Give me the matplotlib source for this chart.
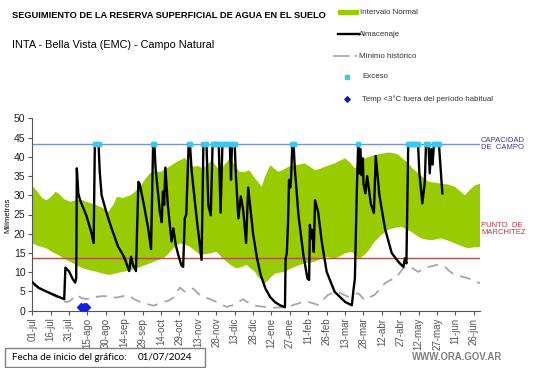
import numpy as np
import matplotlib
matplotlib.use("Agg")
import matplotlib.pyplot as plt
from matplotlib.lines import Line2D
from matplotlib.patches import Rectangle

plt.rcParams['font.family'] = ['Liberation Sans', 'DejaVu Sans']

W, H = 541, 368

# dias desde 01/07/2024
fechas = ["01-jul", "16-jul", "31-jul", "15-ago", "30-ago", "14-sep", "29-sep", "14-oct",
          "29-oct", "13-nov", "28-nov", "13-dic", "28-dic", "12-ene", "27-ene", "11-feb",
          "26-feb", "13-mar", "28-mar", "12-abr", "27-abr", "12-may", "27-may", "11-jun", "26-jun"]

capacidad_campo = 43.4
punto_marchitez = 13.8

sup_dias = [0, 4, 8, 11.7, 15, 19, 22, 26, 31, 35, 40, 45, 52.5, 57, 62, 66, 69, 74, 80, 84, 88,
            92, 96, 100, 104, 107, 112, 118, 124.5, 128, 131, 135, 139, 143, 146, 150, 153, 157,
            161, 165, 169, 173, 177, 181.5, 184, 187, 190, 194, 197, 200.5, 204, 208.7, 215, 222,
            226, 230.4, 234, 238.6, 242, 246.7, 251, 255, 259, 263, 267, 271, 275, 279, 285, 290,
            294, 298, 302, 306.5, 310, 314.7, 319, 323, 328, 333.7, 339, 344.5, 349, 352.7, 357,
            361, 365]
sup_mm = [32.5, 31, 29.3, 28.7, 29.5, 30.9, 30.3, 29, 28.3, 28.7, 28.8, 28.2, 27.4, 26.8, 25.7,
          27.5, 29.6, 29.3, 30, 31, 32.2, 34.2, 35.7, 36.3, 36, 36.5, 37.5, 38.7, 39.7, 38.5, 37.4,
          37.6, 37, 38, 39.1, 37.5, 36.5, 38, 39.6, 37.8, 36.1, 36, 36.5, 34.4, 33.5, 32.2, 35,
          37.8, 37, 36.1, 36.5, 37.4, 37.8, 38.3, 37.5, 36.5, 36.8, 37.4, 37.8, 38.3, 39, 39.6,
          38.5, 37, 38, 39.6, 40, 40.4, 40.8, 41.1, 41, 40.6, 39.5, 38.3, 37, 35.7, 34.5, 33.5,
          33.3, 33, 32.8, 32.2, 31, 30, 31.5, 32.6, 33]

inf_dias = [0, 5, 11.7, 16, 21, 26, 31, 36, 41.6, 47, 52.5, 58, 63, 68, 74, 80, 85, 90, 96, 101,
            107, 111, 115, 118, 120.4, 124, 128.6, 133, 137, 141, 145, 150.3, 154, 158.5, 162,
            166.6, 170, 174.8, 178, 181.5, 184, 189.7, 194, 198, 206, 210, 214, 222, 230, 234,
            238.6, 243, 247, 251, 255, 260.3, 263, 265.7, 268, 271, 275, 279, 284, 290, 295, 301,
            305, 309, 313, 317, 321, 325.5, 330, 333.7, 339, 344.5, 350, 355.4, 360, 365]
inf_mm = [17.5, 16.8, 16.2, 15.3, 14.5, 13.5, 12.7, 11.8, 11, 10.5, 10.1, 9.6, 9.3, 9.7, 10.1,
          10.5, 11, 11.6, 12.3, 13, 13.6, 14.8, 16.2, 17, 17.5, 17.2, 16.6, 15.5, 14.5, 14.7, 14.9,
          15.3, 14, 12.7, 11.8, 11, 11.3, 11.9, 11, 10.1, 8.8, 7.1, 8.5, 9.7, 10.1, 10.8, 11.4,
          12.3, 12.7, 13.3, 14, 13.8, 13.6, 14.2, 14.9, 15.3, 14.5, 13.6, 13.8, 14.5, 16, 17.9,
          19.5, 21, 21.5, 21.8, 21.2, 20.5, 19.6, 18.8, 18.5, 18.3, 18.6, 18.8, 18.2, 17.5, 16.8,
          16.2, 16.5, 16.6]

alm_dias = [0, 5, 10, 15, 20, 26, 27, 30, 33, 35, 35.8, 36.3, 37.5, 39, 44, 48, 50, 51, 54, 55,
            56.5, 60, 64, 70, 74, 76, 79, 80.5, 82, 84.5, 86.5, 87.5, 90.5, 94.5, 96.8, 98.5, 99.5,
            100.5, 104, 105.5, 106.5, 107.5, 108.5, 110.5, 113.5, 115, 117, 119, 121.5, 123, 124.3,
            125.5, 127.5, 128.5, 130, 134, 138, 139.5, 142, 143.5, 145.5, 147, 152, 153.5, 155,
            158.5, 161, 162, 162.8, 165, 166, 168, 170, 172, 174.3, 176, 178, 180, 183, 186, 190,
            194, 198, 202, 206, 206.5, 207.5, 208.5, 209.3, 210.3, 211, 212, 213, 214, 217, 221,
            224.3, 225.7, 226.3, 227.5, 228.3, 229.5, 230.5, 233, 236, 240, 246.5, 255, 260.5, 262,
            263, 264.4, 265.7, 266.5, 267.5, 268.5, 269.5, 270, 271.5, 273, 276, 278.5, 280, 283,
            287.5, 293, 298, 300.5, 302.5, 303.8, 305, 306.5, 314.5, 315.5, 318, 320, 321, 323,
            324, 325.3, 326.3, 327.5, 331.5, 334.3]
alm_mm = [7.4, 6.0, 5.2, 4.5, 3.8, 3.0, 11.2, 10.2, 8.2, 7.3, 8.5, 37.0, 30.5, 28.7, 24.8, 20.5,
          17.6, 43.4, 43.4, 36, 30, 26, 22, 16.6, 14.5, 13, 10.3, 14, 12, 10.3, 33.5, 33, 28.3,
          21.4, 16, 43.4, 43.4, 37, 25.7, 23, 31, 27.5, 37.2, 27.4, 18, 21.4, 17, 14.5, 11.8, 11.4,
          24, 25, 43.4, 43.4, 36, 24, 13.2, 43.4, 43.4, 27.4, 24.8, 43.4, 43.4, 25.5, 43.4, 43.4,
          43.4, 34, 43.4, 43.4, 35, 24, 29.7, 26, 17.6, 32, 26, 20, 14, 9.5, 5.8, 3.5, 2.2, 1.4,
          0.9, 13.5, 15, 23, 34, 32, 34.5, 43.4, 43.4, 37, 24.8, 14.5, 8.4, 8, 22.3, 18.8, 21,
          15.3, 28.7, 25.7, 17.9, 10.1, 4.9, 2.3, 1.4, 5.8, 8.4, 29.2, 43.4, 35.7, 42, 35.2, 39.6,
          33, 30.5, 35, 27.8, 25.4, 40.2, 30, 21.4, 15, 12.9, 12, 11.4, 13.6, 12.3, 43.4, 43.4, 36,
          27.9, 33.5, 43.4, 43.4, 35.7, 42, 38, 43.4, 43.4, 30.5]

min_dias = [0, 5, 10, 15, 20, 25, 28, 31, 36, 40, 44, 48, 52.5, 58, 63, 68, 73, 78, 83, 88, 94,
            99, 103, 107, 111, 115, 118, 120.5, 124, 126, 129, 131, 135, 139.5, 145, 150, 154,
            158.5, 163, 168, 172, 175, 177.5, 181.5, 189.5, 198, 204, 209, 213, 217, 221, 225, 229,
            233, 237, 241, 245, 249.5, 253, 257.5, 262, 266, 268.5, 271, 275, 279, 283, 287.5, 291,
            295.5, 299, 302.5, 305, 309, 312, 314.5, 318, 323, 326, 329.5, 333, 336.5, 340, 344.5,
            350, 355.5, 360, 365]
min_mm = [7.0, 5.8, 5.0, 4.3, 3.5, 2.6, 2.2, 2.6, 4.1, 3.3, 3.0, 3.3, 3.6, 3.8, 3.7, 3.4, 3.7,
          4.1, 3.0, 2.3, 1.7, 1.3, 1.8, 2.3, 2.6, 3.4, 5.0, 6.0, 5.0, 4.9, 5.6, 5.8, 4.5, 3.6, 3.0,
          2.3, 1.6, 1.0, 1.4, 2.3, 3.0, 2.3, 1.9, 1.3, 1.0, 0.8, 0.9, 1.0, 1.5, 1.9, 2.3, 2.3, 1.9,
          1.5, 2.8, 4.1, 4.6, 4.9, 4.3, 3.6, 4.2, 4.5, 3.6, 2.8, 3.5, 4.1, 5.5, 7.1, 7.8, 8.4, 9.6,
          11.0, 11.5, 11.4, 10.6, 10.1, 10.7, 11.4, 11.6, 11.9, 11.6, 11.4, 10.3, 9.3, 8.9, 8.4,
          7.8, 7.1]

exceso_dias = [51, 52, 53, 54, 98.5, 99.5, 127.5, 128.5, 139.5, 140.5, 141.5, 147, 148, 149, 150,
               151, 152, 155, 156, 157, 158, 161, 162.8, 163.8, 165, 212, 213, 265.7, 306.5,
               307.5, 308.5, 309.5, 310.5, 311.5, 312.5, 314.5, 321, 322, 323, 327.5, 328.5,
               329.5, 330.5, 331.5]

frio_dias = [40, 42, 44]
frio_mm = [1.0, 1.0, 1.0]


def fx(x):
    return x / W


def fy(y):
    return 1 - y / H


fig = plt.figure(figsize=(W / 100, H / 100), dpi=100)
ax = fig.add_axes([fx(32.3), fy(310.7), (480 - 32.3) / W, (310.7 - 118.3) / H])

verde = '#99CC00'
ax.fill(np.concatenate([sup_dias, inf_dias[::-1]]), np.concatenate([sup_mm, inf_mm[::-1]]),
        color=verde, lw=0, zorder=1)
ax.axhline(capacidad_campo, color='#7A94C8', lw=1, zorder=2)
ax.axhline(punto_marchitez, color='#B0504A', lw=1, zorder=2)
ax.plot(min_dias, min_mm, color='#A6A6A6', lw=1.3, dashes=(6, 4), zorder=3)
ax.plot(alm_dias, alm_mm, color='black', lw=1.7, zorder=4)
ax.plot(exceso_dias, [capacidad_campo] * len(exceso_dias), ls='none', marker='s', ms=2.6,
        color='#3CC8EC', zorder=5)
ax.plot(frio_dias, frio_mm, ls='none', marker='D', ms=3.8, color='#1020E0', zorder=5)

ax.set_xlim(0, 365)
ax.set_ylim(0, 50)
ax.set_xticks(np.arange(len(fechas)) * 15)
ax.set_xticklabels(fechas, rotation=90, fontsize=7, color='#222222')
ax.set_yticks(np.arange(0, 51, 5))
ax.tick_params(axis='y', labelsize=7.5, length=3, colors='#555555', labelcolor='#222222', pad=2)
ax.tick_params(axis='x', length=3, colors='#555555', pad=2)
for s in ['top', 'right']:
    ax.spines[s].set_visible(False)
for s in ['left', 'bottom']:
    ax.spines[s].set_color('#555555')
ax.set_facecolor('none')

fig.text(fx(8), fy(215), "Milímetros", rotation=90, fontsize=5.5, ha='center', va='center')

# textos a la derecha
fig.text(fx(481), fy(144), "CAPACIDAD\nDE  CAMPO", fontsize=5.5, color='#3A3AAA', va='center',
         linespacing=1.1)
fig.text(fx(481), fy(229), "PUNTO  DE\nMARCHITEZ", fontsize=5.5, color='#C83232', va='center',
         linespacing=1.1)

# titulos
fig.text(fx(12), fy(15), "SEGUIMIENTO DE LA RESERVA SUPERFICIAL DE AGUA EN EL SUELO",
         fontsize=6.65, fontweight='bold', va='center')
fig.text(fx(12), fy(45), "INTA - Bella Vista (EMC) - Campo Natural", fontsize=7.8, va='center')

# leyenda
gris_txt = '#333333'
fs_ley = 5.7
fig.add_artist(Rectangle((fx(338), fy(15)), (359 - 338) / W, 5 / H, color=verde, lw=0))
fig.text(fx(360), fy(12), "Intervalo Normal", fontsize=fs_ley, va='center', color=gris_txt)
fig.add_artist(Line2D([fx(338), fx(359)], [fy(34), fy(34)], color='black', lw=1.7))
fig.text(fx(359), fy(34), "Almacenaje", fontsize=fs_ley, va='center', color=gris_txt)
fig.add_artist(Line2D([fx(333), fx(357)], [fy(56), fy(56)], color='#A6A6A6', lw=1.2,
                      dashes=(10, 3)))
fig.text(fx(359), fy(56), "Mínimo histórico", fontsize=fs_ley, va='center', color=gris_txt)
fig.add_artist(Line2D([fx(347)], [fy(77)], marker='s', ms=2.6, color='#3CC8EC', ls='none'))
fig.text(fx(362), fy(77), "Exceso", fontsize=fs_ley, va='center', color=gris_txt)
fig.add_artist(Line2D([fx(347)], [fy(99)], marker='D', ms=2.8, color='#1020A0', ls='none'))
fig.text(fx(362), fy(99), "Temp <3°C fuera del período habitual", fontsize=fs_ley, va='center',
         color=gris_txt)

# recuadro fecha
fig.add_artist(Rectangle((fx(5), fy(367)), 200 / W, 19 / H, fill=False, ec='#8C7B7B', lw=1))
fig.text(fx(12), fy(357.5), "Fecha de inicio del gráfico:", fontsize=7.1, va='center',
         family=['Lato', 'DejaVu Sans'])
fig.text(fx(138), fy(357.5), "01/07/2024", fontsize=7.1, va='center',
         family=['Lato', 'DejaVu Sans'])
fig.text(fx(412), fy(357.5), "WWW.ORA.GOV.AR", fontsize=6.9, va='center', color='#7F7F7F',
         fontweight='bold')

fig.savefig("out.png", dpi=100)
